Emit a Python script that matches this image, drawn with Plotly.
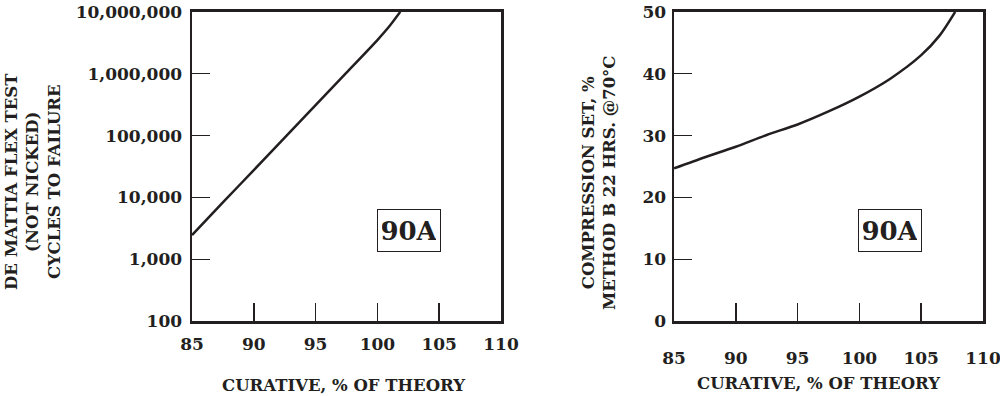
import plotly.graph_objects as go

# ---- data ----
flex_curative = [85, 87.5, 90, 92.5, 95, 97.5, 100, 101, 101.85]
flex_cycles = [2460, 8300, 27700, 93000, 311000, 1040000, 3500000, 5950000, 10000000]

comp_curative = [85, 87.5, 90, 92.5, 95, 97.5, 100, 102.5, 105, 106.5, 107.75]
comp_set = [24.7, 26.5, 28.2, 30.1, 31.8, 33.9, 36.3, 39.2, 43.0, 46.2, 50.0]

x_ticks = [85, 90, 95, 100, 105, 110]
flex_ticks = [100, 1000, 10000, 100000, 1000000, 10000000]
flex_tick_text = ["100", "1,000", "10,000", "100,000", "1,000,000", "10,000,000"]
comp_ticks = [0, 10, 20, 30, 40, 50]

label_text = "90A"

INK = "#231f20"
FONT = "DejaVu Serif"

fig = go.Figure()
fig.add_trace(go.Scatter(x=flex_curative, y=flex_cycles, mode="lines",
                         line=dict(color=INK, width=2.5, shape="spline", smoothing=0.6),
                         xaxis="x", yaxis="y", showlegend=False, hoverinfo="skip"))
fig.add_trace(go.Scatter(x=comp_curative, y=comp_set, mode="lines",
                         line=dict(color=INK, width=2.5, shape="spline", smoothing=0.8),
                         xaxis="x2", yaxis="y2", showlegend=False, hoverinfo="skip"))

tickfont = dict(family=FONT, size=17, color=INK, weight="bold")
common_axis = dict(showline=True, linecolor=INK, linewidth=2.5, mirror=True,
                   showgrid=False, zeroline=False, ticks="inside", ticklen=18,
                   tickwidth=1.5, tickcolor=INK, tickfont=tickfont, automargin=False,
                   ticklabeloverflow="allow")

ydom = [0.189, 0.970]
fig.update_layout(
    width=1000, height=396,
    margin=dict(l=0, r=0, t=0, b=0, autoexpand=False),
    paper_bgcolor="white", plot_bgcolor="white",
    xaxis=dict(domain=[0.192, 0.501], range=[85, 110], tickvals=x_ticks,
               anchor="y", ticklabelstandoff=6, **common_axis),
    yaxis=dict(domain=ydom, type="log", range=[2, 7], tickvals=flex_ticks,
               ticktext=flex_tick_text, anchor="x", ticklabelstandoff=4, **common_axis),
    xaxis2=dict(domain=[0.674, 0.983], range=[85, 110], tickvals=x_ticks,
                anchor="y2", ticklabelstandoff=20, **common_axis),
    yaxis2=dict(domain=ydom, range=[0, 50], tickvals=comp_ticks,
                anchor="x2", ticklabelstandoff=2, **common_axis),
)

title_font = dict(family=FONT, size=16.5, color=INK, weight="bold")
box_font = dict(family=FONT, size=26, color=INK, weight="bold")

annotations = [
    # left y title
    dict(text="<b>DE MATTIA FLEX TEST<br>(NOT NICKED)<br>CYCLES TO FAILURE</b>",
         xref="paper", yref="paper", x=0.033, y=(396 - 182) / 396,
         textangle=-90, showarrow=False, font=title_font,
         xanchor="center", yanchor="middle"),
    # left x title
    dict(text="<b>CURATIVE, % OF THEORY</b>", xref="paper", yref="paper",
         x=0.343, y=(396 - 385) / 396, showarrow=False, font=title_font,
         xanchor="center", yanchor="middle"),
    # right y title
    dict(text="<b>COMPRESSION SET, %<br>METHOD B 22 HRS. @70°C</b>",
         xref="paper", yref="paper", x=0.599, y=(396 - 183) / 396,
         textangle=-90, showarrow=False, font=title_font,
         xanchor="center", yanchor="middle"),
    # right x title
    dict(text="<b>CURATIVE, % OF THEORY</b>", xref="paper", yref="paper",
         x=0.818, y=(396 - 383) / 396, showarrow=False, font=title_font,
         xanchor="center", yanchor="middle"),
    # boxes
    dict(text="<b>" + label_text + "</b>", xref="x", yref="y", x=102.55, y=3.47,
         showarrow=False, font=box_font, bordercolor=INK, borderwidth=1,
         borderpad=4, width=54, height=33, bgcolor="white",
         xanchor="center", yanchor="middle"),
    dict(text="<b>" + label_text + "</b>", xref="x2", yref="y2", x=102.45, y=14.7,
         showarrow=False, font=box_font, bordercolor=INK, borderwidth=1,
         borderpad=4, width=54, height=33, bgcolor="white",
         xanchor="center", yanchor="middle"),
]
fig.update_layout(annotations=annotations)

fig.write_html("out.html", config={"displayModeBar": False, "staticPlot": True},
               post_script="document.body.style.margin='0';document.body.style.overflow='hidden';")
